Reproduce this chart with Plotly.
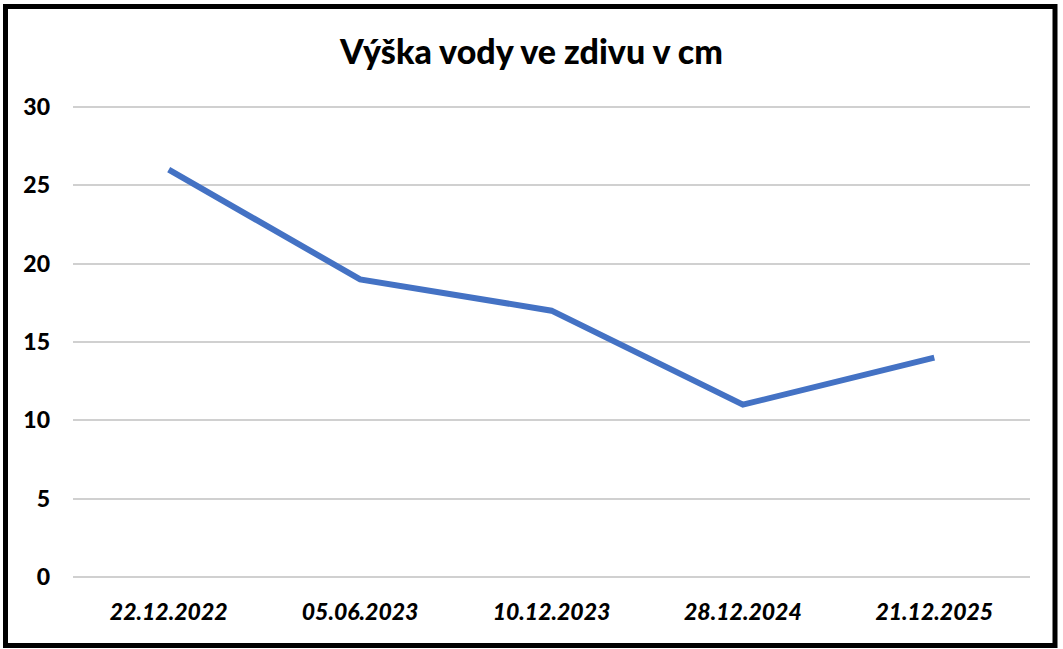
import plotly.graph_objects as go

categories = ["22.12.2022", "05.06.2023", "10.12.2023", "28.12.2024", "21.12.2025"]
values = [26, 19, 17, 11, 14]
y_ticks = [0, 5, 10, 15, 20, 25, 30]

W, H = 1063, 649
L, R, T, B = 73, 33, 105, 70
pw, ph = W - L - R, H - T - B

def px_to_paper_x(px):
    return (px - L) / pw

def px_to_paper_y(py):
    return (H - B - py) / ph

FONT = "Lato, Open Sans, sans-serif"

fig = go.Figure()
fig.add_trace(go.Scatter(
    x=categories, y=values, mode="lines",
    line=dict(color="#4472C4", width=6),
    hoverinfo="x+y",
))

fig.update_layout(
    width=W, height=H,
    margin=dict(l=L, r=R, t=T, b=B),
    paper_bgcolor="white", plot_bgcolor="white",
    showlegend=False,
    title=dict(
        text="Výška vody ve zdivu v cm",
        x=0.5, xanchor="center", y=1 - 52 / H, yanchor="middle",
        font=dict(family=FONT, size=34, color="black", weight=900),
    ),
    xaxis=dict(
        type="category", range=[-0.5, 4.5],
        showgrid=False, showline=False, zeroline=False,
        ticks="", ticklabelstandoff=17,
        tickfont=dict(family=FONT, size=23, color="black", weight=900, style="italic"),
    ),
    yaxis=dict(
        range=[-0.13, 30.13], tickvals=y_ticks,
        showgrid=True, gridcolor="#D0D0D0", gridwidth=2,
        zeroline=False, showline=False, ticks="",
        ticklabelstandoff=22,
        tickfont=dict(family=FONT, size=23, color="black", weight=900),
    ),
    shapes=[dict(
        type="rect", xref="paper", yref="paper",
        x0=px_to_paper_x(5.5), x1=px_to_paper_x(1055),
        y0=px_to_paper_y(645.5), y1=px_to_paper_y(6.5),
        line=dict(color="black", width=5), fillcolor="rgba(0,0,0,0)",
        layer="above",
    )],
)

fig.write_html(
    "out.html",
    config={"displayModeBar": False},
    post_script="document.body.style.margin='0';document.body.style.padding='0';",
)
